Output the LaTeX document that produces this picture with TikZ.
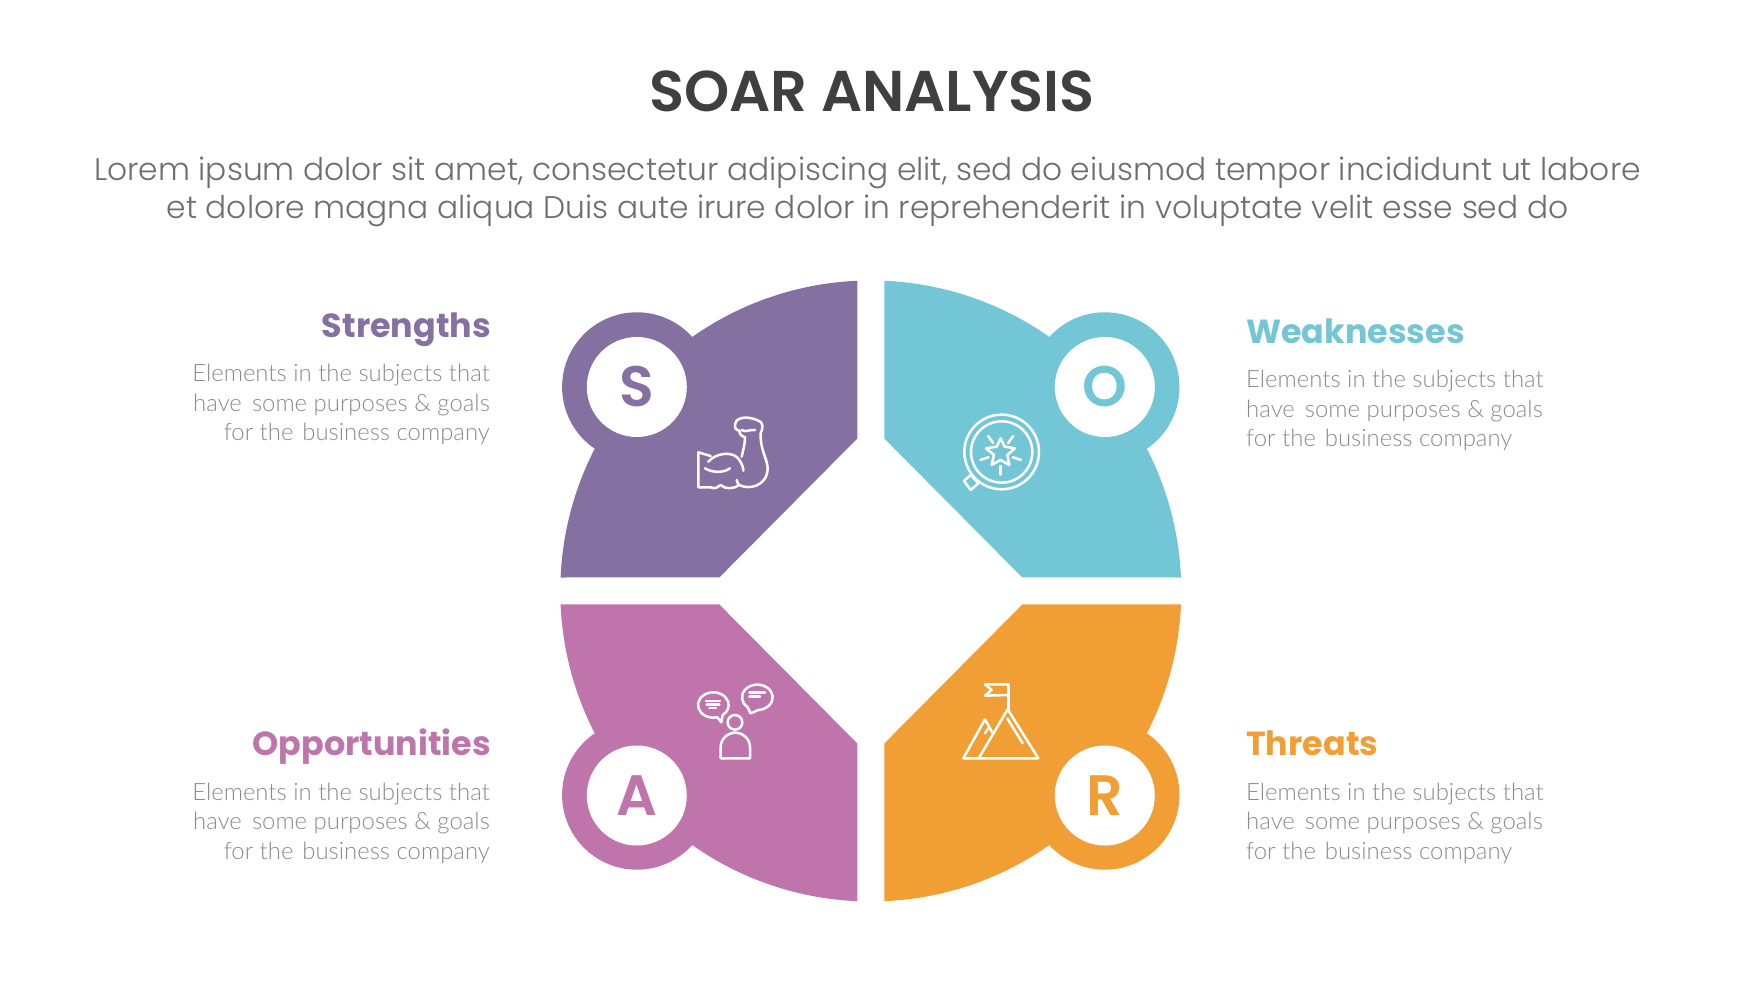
\documentclass[tikz,border=0pt]{standalone}
\usepackage{fontspec}
\setmainfont{Lato Light}
\newfontfamily\titlefont{Poppins SemiBold}
\newfontfamily\leadfont{Poppins Light}
\newfontfamily\headfont{Poppins}[UprightFont=* Bold]
\definecolor{purpleS}{HTML}{8570A2}
\definecolor{tealO}{HTML}{73C6D5}
\definecolor{pinkA}{HTML}{BF75AC}
\definecolor{orangeR}{HTML}{F19F35}
\definecolor{inkdark}{HTML}{3F3F3F}
\definecolor{inkmid}{HTML}{6E6E6E}
\definecolor{inkbody}{HTML}{8A8A8A}
\tikzset{
  letter/.style={circle,fill=white,minimum size=100pt,inner sep=0pt,text height=40pt,text depth=0pt,
    font=\titlefont\fontsize{57}{57}\selectfont},
  heading/.style={inner sep=0pt,font=\headfont\fontsize{33.4}{38}\selectfont},
  blurb/.style={inner sep=0pt,text=inkbody,font=\fontsize{23.9}{29.5}\selectfont},
  icon/.style={draw=white,line width=2.5pt,line join=round,line cap=round},
}
\newcommand{\blurbtext}{Elements in the subjects that\\have\hspace{.15em} some purposes \& goals\\for the\hspace{.1em} business company}
% one quarter of the ring, with the ring's middle at the origin
\newcommand{\petal}[1]{
  \fill[#1] (-13.5,152.5) -- (-13.5,310.2)
    arc[start angle=92.49,end angle=177.51,radius=310.5pt]
    -- (-151.5,13.5) -- cycle;
  \fill[#1] (-234,204) circle[radius=74.7pt];
}
\begin{document}
\begin{tikzpicture}[x=1pt,y=1pt]
  \useasboundingbox (0,0) rectangle (1742,980);
  % title
  \node[inner sep=0pt,text=inkdark,font=\titlefont\fontsize{57.5}{60}\selectfont,anchor=base] (title) at (872,868) {SOAR ANALYSIS};
  \node[inner sep=0pt,text=inkmid,align=center,font=\leadfont\fontsize{31.3}{38}\selectfont,anchor=base] (lead) at (867.5,761)
    {Lorem ipsum dolor sit amet, consectetur adipiscing elit, sed do eiusmod tempor incididunt ut labore\\
     et dolore magna aliqua Duis aute irure dolor in reprehenderit in voluptate velit esse sed do};
  % the four quarters
  \begin{scope}[shift={(870.8,389)}]
    \petal{purpleS}
    \begin{scope}[xscale=-1]
      \petal{tealO}
    \end{scope}
    \begin{scope}[yscale=-1]
      \petal{pinkA}
    \end{scope}
    \begin{scope}[xscale=-1,yscale=-1]
      \petal{orangeR}
    \end{scope}
  \end{scope}
  % letters
  \node[letter,text=purpleS] (letterS) at (636.8,593) {S};
  \node[letter,text=tealO] (letterO) at (1104.8,593) {O};
  \node[letter,text=pinkA] (letterA) at (636.8,184.5) {A};
  \node[letter,text=orangeR] (letterR) at (1104.8,184.5) {R};
  % left side texts
  \node[heading,text=purpleS,anchor=base east] (headS) at (491,642) {Strengths};
  \node[blurb,align=right,anchor=base east] (textS) at (490,539) {\blurbtext};
  \node[heading,text=pinkA,anchor=base east] (headA) at (491,224) {Opportunities};
  \node[blurb,align=right,anchor=base east] (textA) at (490,121) {\blurbtext};
  % right side texts
  \node[heading,text=tealO,anchor=base west] (headO) at (1246,636) {Weaknesses};
  \node[blurb,align=left,anchor=base west] (textO) at (1246,533) {\blurbtext};
  \node[heading,text=orangeR,anchor=base west] (headR) at (1246,224) {Threats};
  \node[blurb,align=left,anchor=base west] (textR) at (1246,121) {\blurbtext};
  % arm
  \begin{scope}[shift={(680,580)},xscale=0.3333,yscale=-0.3333]
    \draw[icon] (85,185) .. controls (105,160) and (160,150) .. (178,180) .. controls (188,195) and (190,205) .. (190,212);
    \draw[icon] (55,157) -- (92,168);
    \draw[icon] (55,157) -- (55,262) -- (92,262) .. controls (105,268) and (115,262) .. (122,255) .. controls (135,268) and (160,268) .. (178,255) .. controls (205,270) and (262,260) .. (263,205) .. controls (262,175) and (240,150) .. (242,100) .. controls (250,85) and (250,65) .. (235,62) .. controls (215,52) and (185,48) .. (170,62) .. controls (160,80) and (165,90) .. (178,92) .. controls (178,105) and (188,110) .. (195,112) .. controls (195,135) and (188,155) .. (185,170);
    \draw[icon] (185,90) .. controls (195,98) and (210,88) .. (225,90);
    \draw[icon] (75,205) .. controls (95,218) and (130,220) .. (150,205);
    \draw[icon] (170,240) .. controls (172,250) and (175,252) .. (178,255);
  \end{scope}
  % badge with star
  \begin{scope}[shift={(950,580)},xscale=0.3333,yscale=-0.3333]
    \draw[icon] (155,156) circle[radius=112pt];
    \draw[icon] (155,156) circle[radius=92pt];
    \draw[icon] (42,243) -- (62,225) -- (85,250) -- (62,270) -- cycle;
    \draw[icon] (152,115) -- (164,140) -- (195,145) -- (172,165) -- (178,195) -- (152,180) -- (125,195) -- (132,165) -- (108,145) -- (140,140) -- cycle;
    \foreach \ang in {18,90,162,234,306}
      \draw[icon] (152,160) ++(\ang:38) -- ++(\ang:26);
  \end{scope}
  % person with two bubbles
  \begin{scope}[shift={(680,310)},xscale=0.3333,yscale=-0.3333]
    \draw[icon] (165,157) circle[radius=22pt];
    \draw[icon] (122,265) -- (122,232) .. controls (122,205) and (145,188) .. (166,188) .. controls (187,188) and (210,205) .. (210,232) -- (210,265) -- cycle;
    \draw[icon] (100,105) ++(75:46pt and 38pt) arc[start angle=75,end angle=413,x radius=46pt,y radius=38pt] -- (124,157) -- cycle;
    \draw[icon] (232,82) ++(130:46pt and 38pt) arc[start angle=130,end angle=445,x radius=46pt,y radius=38pt] -- (212,130) -- cycle;
    \draw[icon] (78,93) -- (120,93);
    \draw[icon] (80,104) -- (118,104);
    \draw[icon] (88,114) -- (108,114);
    \draw[icon] (208,68) -- (255,68);
    \draw[icon] (208,80) -- (240,80);
  \end{scope}
  % mountain with flag
  \begin{scope}[shift={(950,310)},xscale=0.3333,yscale=-0.3333]
    \draw[icon] (175,43) -- (175,118);
    \draw[icon] (175,43) -- (105,43) -- (125,60) -- (105,77) -- (175,75);
    \draw[icon] (40,265) -- (265,265) -- (173,118) -- (88,262);
    \draw[icon] (40,265) -- (105,148) -- (127,188);
    \draw[icon] (172,145) -- (218,220);
    \draw[icon] (105,190) -- (115,175);
  \end{scope}
\end{tikzpicture}
\end{document}
